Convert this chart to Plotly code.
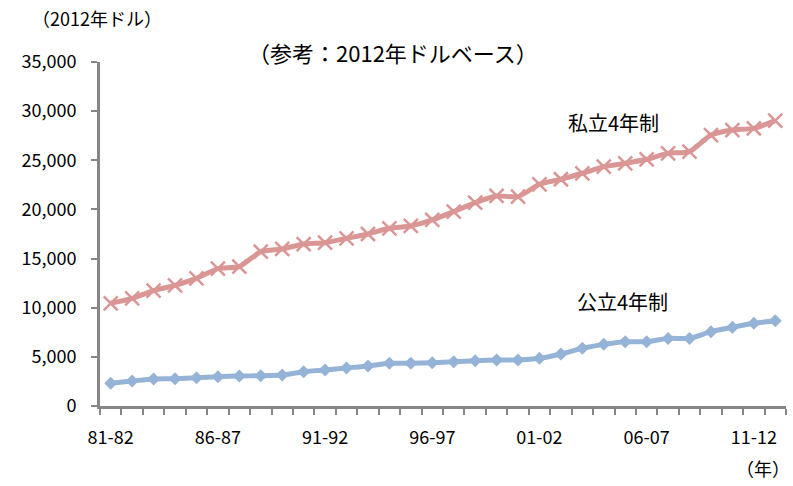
import plotly.graph_objects as go

# Academic years (fiscal year spans)
years = ["81-82", "82-83", "83-84", "84-85", "85-86", "86-87", "87-88", "88-89",
         "89-90", "90-91", "91-92", "92-93", "93-94", "94-95", "95-96", "96-97",
         "97-98", "98-99", "99-00", "00-01", "01-02", "02-03", "03-04", "04-05",
         "05-06", "06-07", "07-08", "08-09", "09-10", "10-11", "11-12", "12-13"]

# Tuition and fees, constant 2012 dollars
private_4yr = [10450, 10960, 11730, 12280, 12990, 13970, 14180, 15700,
               15980, 16480, 16620, 17060, 17500, 18080, 18320, 18930,
               19770, 20690, 21370, 21300, 22560, 23070, 23680, 24350,
               24690, 25100, 25710, 25880, 27570, 28080, 28250, 29030]
public_4yr = [2310, 2540, 2750, 2780, 2880, 2980, 3050, 3080,
              3150, 3490, 3660, 3870, 4070, 4340, 4340, 4400,
              4510, 4610, 4680, 4680, 4850, 5290, 5870, 6270,
              6540, 6540, 6880, 6880, 7560, 8000, 8410, 8680]

y_ticks = [0, 5000, 10000, 15000, 20000, 25000, 30000, 35000]
label_step = 5

idx = list(range(len(years)))
AXIS = "#868686"
FONT = "Noto Sans CJK JP"
W, H = 793, 486
ML, MR, MT, MB = 100, 7, 62, 80

fig = go.Figure()
fig.add_trace(go.Scatter(
    x=idx, y=private_4yr, mode="lines+markers", name="私立4年制",
    line=dict(color="#DA9694", width=5, shape="spline", smoothing=0.6),
    marker=dict(symbol="x-thin", size=14, line=dict(color="#DA9694", width=2.5)),
))
fig.add_trace(go.Scatter(
    x=idx, y=public_4yr, mode="lines+markers", name="公立4年制",
    line=dict(color="#95B3D7", width=5, shape="spline", smoothing=0.6),
    marker=dict(symbol="diamond", size=10, color="#95B3D7"),
))

fig.update_layout(
    width=W, height=H,
    margin=dict(l=ML, r=MR, t=MT, b=MB),
    paper_bgcolor="white", plot_bgcolor="white",
    showlegend=False,
    font=dict(family=FONT, size=18, color="#000000"),
)

fig.update_xaxes(
    range=[-0.5, len(years) - 0.5],
    tickvals=idx[::label_step],
    ticktext=years[::label_step],
    ticks="", showgrid=False, zeroline=False,
    showline=True, linecolor=AXIS, linewidth=3,
    tickfont=dict(family=FONT, size=18, color="#000000"),
    ticklabelstandoff=13,
    minor=dict(tickvals=[i - 0.5 for i in range(len(years) + 1)],
               ticks="outside", ticklen=6, tickwidth=2, tickcolor=AXIS,
               showgrid=False),
)
fig.update_yaxes(
    range=[0, 35000],
    tickvals=y_ticks,
    ticktext=[f"{v:,}" for v in y_ticks],
    ticks="outside", ticklen=6, tickwidth=2, tickcolor=AXIS,
    showgrid=False, zeroline=False,
    showline=True, linecolor=AXIS, linewidth=3,
    tickfont=dict(family=FONT, size=18, color="#000000"),
    ticklabelstandoff=11,
)

annotations = [
    dict(text="（2012年ドル）", x=97, y=18, anchor="center", font_size=18),
    dict(text="（参考：2012年ドルベース）", x=393, y=52, anchor="center", font_size=22),
    dict(text="私立4年制", x=613, y=122, anchor="center", font_size=20),
    dict(text="公立4年制", x=622, y=301, anchor="center", font_size=20),
    dict(text="（年）", x=792, y=468, anchor="right", font_size=18),
]
for a in annotations:
    # positions given in page pixels, converted to paper coordinates
    fig.add_annotation(
        text=a["text"], showarrow=False,
        x=(a["x"] - ML) / (W - ML - MR), xref="paper", xanchor=a["anchor"],
        y=1 - (a["y"] - MT) / (H - MT - MB), yref="paper", yanchor="middle",
        font=dict(family=FONT, size=a["font_size"], color="#000000"),
    )

fig.write_html("out.html")
